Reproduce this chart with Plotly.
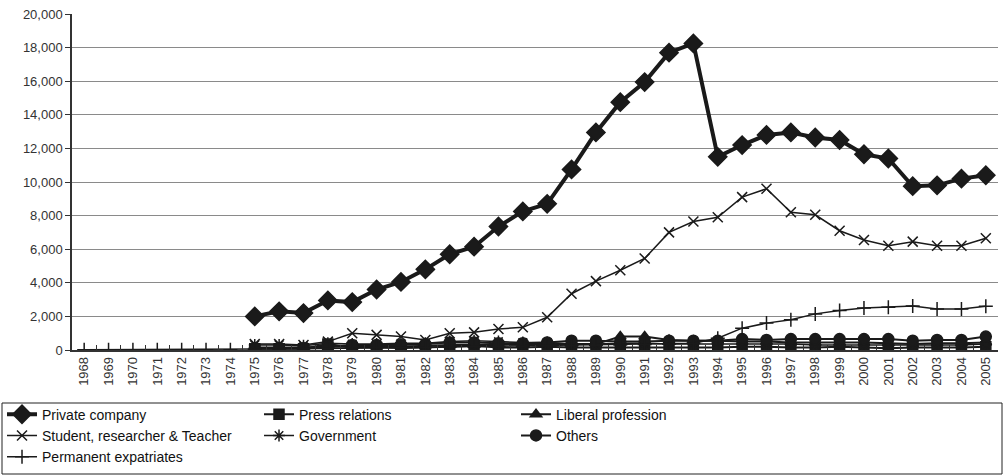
import plotly.graph_objects as go

years = [str(y) for y in range(1968, 2006)]
pre = [None] * 7  # 1968-1974

private_company = pre + [2000, 2300, 2200, 2950, 2850, 3600, 4050, 4800, 5700, 6150,
                         7350, 8250, 8700, 10750, 12950, 14750, 15950, 17700, 18250, 11500,
                         12200, 12800, 12950, 12650, 12500, 11650, 11400, 9750, 9800, 10200, 10400]
press_relations = pre + [80, 80, 80, 350, 150, 150, 120, 150, 200, 250,
                         150, 150, 200, 150, 150, 150, 150, 150, 150, 150,
                         200, 200, 150, 150, 200, 150, 100, 150, 150, 150, 200]
liberal_profession = pre + [150, 150, 150, 200, 200, 200, 200, 250, 300, 300,
                            300, 350, 350, 350, 350, 800, 800, 600, 550, 550,
                            500, 500, 450, 450, 450, 450, 400, 350, 400, 400, 450]
student = pre + [350, 350, 300, 500, 1000, 900, 800, 600, 1000, 1050,
                 1250, 1350, 1950, 3350, 4100, 4750, 5450, 7000, 7650, 7900,
                 9100, 9600, 8200, 8050, 7100, 6550, 6200, 6450, 6200, 6200, 6650]
government = pre + [300, 300, 250, 400, 350, 350, 400, 400, 500, 550,
                    500, 450, 450, 350, 350, 400, 400, 350, 350, 350,
                    350, 350, 350, 300, 300, 300, 300, 300, 300, 300, 350]
others = pre + [100, 100, 100, 200, 300, 300, 300, 350, 450, 450,
                400, 400, 450, 550, 550, 500, 500, 550, 550, 550,
                650, 600, 650, 650, 650, 650, 650, 550, 600, 600, 800]
permanent_expatriates = [20, 20, 20, 20, 20, 20, 20,
                         50, 60, 70, 100, 120, 130, 150, 160, 180, 200,
                         200, 220, 250, 260, 280, 300, 320, 350, 400, 700,
                         1300, 1600, 1800, 2150, 2350, 2500, 2550, 2620, 2440, 2440, 2600]

y_ticks = list(range(0, 20001, 2000))
y_tick_labels = [f"{v:,}" for v in y_ticks]

series = [
    ("Private company", private_company, "diamond", 14, 4),
    ("Press relations", press_relations, "square", 10, 2),
    ("Liberal profession", liberal_profession, "triangle-up", 10, 2),
    ("Student, researcher & Teacher", student, "x-thin-open", 10, 1.5),
    ("Government", government, "asterisk-open", 10, 1.5),
    ("Others", others, "circle", 11, 2),
    ("Permanent expatriates", permanent_expatriates, "cross-thin-open", 10, 1.5),
]

fig = go.Figure()
for name, vals, sym, size, lw in series:
    fig.add_trace(go.Scatter(
        x=years, y=vals, name=name, mode="lines+markers",
        line=dict(color="#1a1a1a", width=lw),
        marker=dict(symbol=sym, size=size, color="#1a1a1a",
                    line=dict(color="#1a1a1a", width=1.5)),
        connectgaps=False,
    ))

W, H = 1004, 475
ml, mr, mt, mb = 72, 6, 14, 125
pw, ph = W - ml - mr, H - mt - mb

fig.update_layout(
    width=W, height=H,
    margin=dict(l=ml, r=mr, t=mt, b=mb, autoexpand=False),
    paper_bgcolor="white", plot_bgcolor="white",
    font=dict(family="Liberation Sans", size=13, color="#333"),
    showlegend=True,
    legend=dict(
        orientation="h", x=0.002, xref="container", y=0.005, yref="container",
        xanchor="left", yanchor="bottom",
        borderwidth=0, bgcolor="rgba(0,0,0,0)",
        entrywidth=212, entrywidthmode="pixels", tracegroupgap=0, itemwidth=30,
        font=dict(family="Liberation Sans", size=14, color="#111"),
    ),
    shapes=[dict(
        type="rect", xref="paper", yref="paper", layer="below",
        x0=(2 - ml) / pw, x1=(W - 2 - ml) / pw,
        y0=-(H - 1 - mt - ph) / ph, y1=-(403 - mt - ph) / ph,
        line=dict(color="#222", width=1), fillcolor="rgba(0,0,0,0)",
    )],
)
fig.update_xaxes(
    type="category", range=[-0.5, len(years) - 0.5], tickangle=-90, showgrid=False,
    showline=True, linecolor="#333", linewidth=1.5,
    ticks="inside", tickson="boundaries", ticklen=5, tickcolor="#333",
    tickfont=dict(size=13, color="#333"),
)
fig.update_yaxes(
    range=[0, 20000], tickvals=y_ticks, ticktext=y_tick_labels,
    showgrid=True, gridcolor="#8a8a8a", gridwidth=1,
    showline=True, linecolor="#333", linewidth=1.5,
    ticks="outside", ticklen=5, tickcolor="#333",
    tickfont=dict(size=13, color="#333"), zeroline=False,
)

fig.write_html("out.html", config={"displayModeBar": False},
               post_script="document.body.style.margin='0';document.body.style.overflow='hidden';")
